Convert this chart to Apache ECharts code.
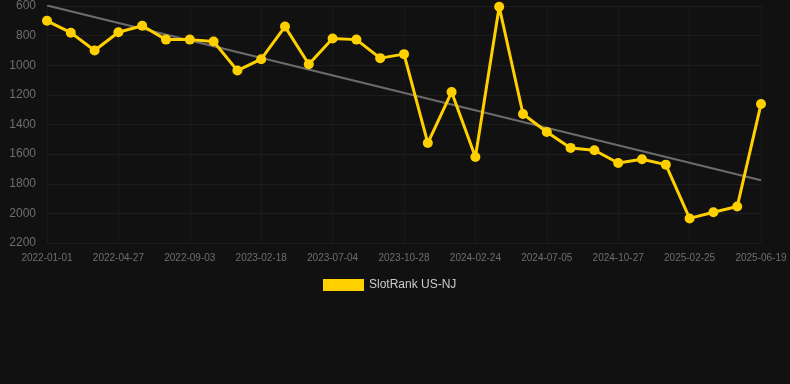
<!DOCTYPE html>
<html lang="en">
<head>
    <meta charset="UTF-8">
    <title>SlotRank US-NJ</title>
    <style>
        body {
            margin: 0;
            background-color: #111111;
        }
        #chart {
            width: 790px;
            height: 384px;
        }
    </style>
    <script src="https://cdn.jsdelivr.net/npm/echarts@6/dist/echarts.min.js"></script>
</head>
<body>
<div id="chart"></div>
<script>
    // Data
    var dates = [
        '2022-01-01', '2022-02-09', '2022-03-19', '2022-04-27', '2022-06-04', '2022-07-13',
        '2022-09-03', '2022-10-12', '2022-11-20', '2023-02-18', '2023-03-29', '2023-05-07',
        '2023-07-04', '2023-08-12', '2023-09-20', '2023-10-28', '2023-12-06', '2024-01-14',
        '2024-02-24', '2024-04-03', '2024-05-12', '2024-07-05', '2024-08-13', '2024-09-21',
        '2024-10-27', '2024-12-05', '2025-01-13', '2025-02-25', '2025-04-05', '2025-05-14',
        '2025-06-19'
    ];
    var ranks = [
        700, 780, 900, 777, 733, 827, 827, 840, 1036, 959, 739,
        993, 820, 827, 952, 925, 1525, 1181, 1619, 605, 1329,
        1451, 1558, 1574, 1660, 1635, 1671, 2034, 1992, 1954, 1262
    ];
    var trendEnds = [596, 1776];
    var seriesName = 'SlotRank US-NJ';

    var trendData = dates.map(function (d, i) {
        if (i === 0) return trendEnds[0];
        if (i === dates.length - 1) return trendEnds[1];
        return null;
    });

    var chart = echarts.init(document.getElementById('chart'));
    chart.setOption({
        backgroundColor: '#111111',
        animation: false,
        grid: { left: 47, right: 29, top: 6, bottom: 141, containLabel: false },
        legend: {
            data: [seriesName],
            top: 274,
            left: 318,
            itemWidth: 41,
            itemHeight: 12,
            icon: 'rect',
            textStyle: { color: '#cccccc', fontSize: 12, fontFamily: 'Arial, sans-serif' }
        },
        xAxis: {
            type: 'category',
            data: dates,
            boundaryGap: false,
            axisLine: { show: false },
            axisTick: { show: false },
            axisLabel: {
                interval: 2,
                color: '#6e6e6e',
                fontSize: 10,
                margin: 10,
                fontFamily: 'Arial, sans-serif'
            },
            splitLine: { show: true, interval: 2, lineStyle: { color: '#1a1a1a', width: 1 } }
        },
        yAxis: {
            type: 'value',
            inverse: true,
            min: 600,
            max: 2200,
            interval: 200,
            axisLine: { show: false },
            axisTick: { show: false },
            axisLabel: {
                color: '#6e6e6e',
                fontSize: 12,
                margin: 11,
                fontFamily: 'Arial, sans-serif',
                formatter: function (v) { return String(v); }
            },
            splitLine: { lineStyle: { color: '#1d1d1d', width: 1 } }
        },
        series: [
            {
                name: 'trend',
                type: 'line',
                data: trendData,
                connectNulls: true,
                symbol: 'none',
                silent: true,
                lineStyle: { color: '#6b6b6b', width: 2 },
                z: 1
            },
            {
                name: seriesName,
                type: 'line',
                data: ranks,
                symbol: 'circle',
                symbolSize: 10,
                itemStyle: { color: '#ffd000' },
                lineStyle: { color: '#ffd000', width: 3 },
                z: 2
            }
        ]
    });
</script>
</body>
</html>
